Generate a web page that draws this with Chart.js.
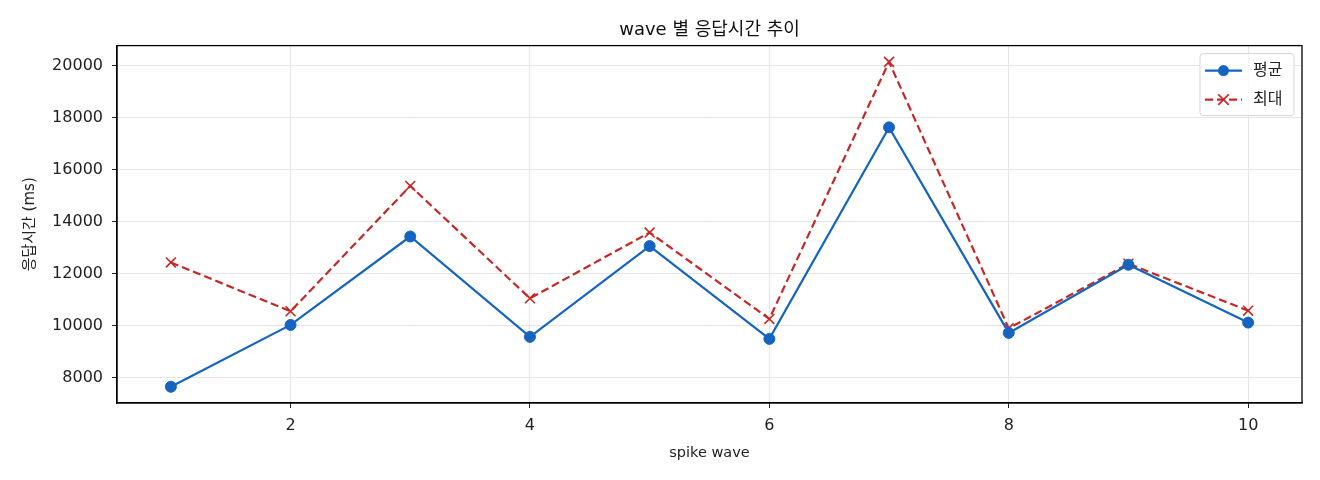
<!DOCTYPE html>
<html>
<head>
<meta charset="utf-8">
<script src="https://cdn.jsdelivr.net/npm/chart.js@4.4.1/dist/chart.umd.min.js"></script>
<style>
  html, body { margin: 0; padding: 0; background: #ffffff; }
  #wrap { width: 1320px; height: 480px; position: relative; }
</style>
</head>
<body>
<div id="wrap"><canvas id="c" width="1320" height="480"></canvas></div>
<script>
// ---- data ----
const waves = [1, 2, 3, 4, 5, 6, 7, 8, 9, 10];
const avgMs = [7655, 10034, 13436, 9574, 13067, 9497, 17635, 9727, 12349, 10123];
const maxMs = [12438, 10557, 15382, 11056, 13589, 10265, 20154, 9904, 12388, 10583];
const xTicks = [2, 4, 6, 8, 10];
const yTicks = [8000, 10000, 12000, 14000, 16000, 18000, 20000];
const seriesLabels = ['평균', '최대'];
const chartTitle = 'wave 별 응답시간 추이';
const xTitle = 'spike wave';
const yTitle = '응답시간 (ms)';

const FONT = "'DejaVu Sans', 'Noto Sans CJK KR', sans-serif";
const BLUE = '#1565c0';
const RED = '#c62828';

const frameAndLegend = {
  id: 'frameAndLegend',
  afterDatasetsDraw(chart) {
    const { ctx, chartArea: a } = chart;
    ctx.save();
    // top & right spines
    ctx.strokeStyle = '#000';
    ctx.lineWidth = 1.3;
    ctx.strokeRect(a.left, a.top, a.right - a.left, a.bottom - a.top);

    // legend box inside upper right
    const bw = 94, bh = 62;
    const bx = a.right - 8 - bw, by = a.top + 8;
    ctx.beginPath();
    ctx.roundRect(bx, by, bw, bh, 3);
    ctx.fillStyle = 'rgba(255,255,255,0.8)';
    ctx.fill();
    ctx.strokeStyle = '#d6d6d6';
    ctx.lineWidth = 1;
    ctx.stroke();

    chart.data.datasets.forEach((ds, i) => {
      const y = by + 17 + i * 29;
      const x0 = bx + 5, x1 = bx + 42, xm = (x0 + x1) / 2;
      ctx.strokeStyle = ds.borderColor;
      ctx.lineWidth = ds.borderWidth;
      ctx.setLineDash(ds.borderDash || []);
      ctx.beginPath();
      ctx.moveTo(x0, y);
      ctx.lineTo(x1, y);
      ctx.stroke();
      ctx.setLineDash([]);
      if (ds.pointStyle === 'circle') {
        ctx.beginPath();
        ctx.arc(xm, y, ds.pointRadius, 0, Math.PI * 2);
        ctx.fillStyle = ds.pointBackgroundColor;
        ctx.fill();
      } else {
        const r = ds.pointRadius * 0.75;
        ctx.lineWidth = ds.pointBorderWidth;
        ctx.beginPath();
        ctx.moveTo(xm - r, y - r); ctx.lineTo(xm + r, y + r);
        ctx.moveTo(xm - r, y + r); ctx.lineTo(xm + r, y - r);
        ctx.stroke();
      }
      ctx.fillStyle = '#222';
      ctx.font = "16px " + FONT;
      ctx.textAlign = 'left';
      ctx.textBaseline = 'middle';
      ctx.fillText(ds.label, bx + 53, y);
    });
    ctx.restore();
  }
};

new Chart(document.getElementById('c'), {
  type: 'line',
  data: {
    datasets: [
      {
        label: seriesLabels[0],
        data: waves.map((w, i) => ({ x: w, y: avgMs[i] })),
        borderColor: BLUE,
        backgroundColor: BLUE,
        borderWidth: 2.2,
        pointStyle: 'circle',
        pointRadius: 5.5,
        pointBackgroundColor: BLUE,
        pointBorderColor: BLUE,
        pointBorderWidth: 1,
        tension: 0
      },
      {
        label: seriesLabels[1],
        data: waves.map((w, i) => ({ x: w, y: maxMs[i] })),
        borderColor: RED,
        backgroundColor: RED,
        borderWidth: 2.2,
        borderDash: [8, 4],
        pointStyle: 'crossRot',
        pointRadius: 7,
        pointBorderColor: RED,
        pointBackgroundColor: RED,
        pointBorderWidth: 1.6,
        tension: 0
      }
    ]
  },
  options: {
    responsive: false,
    animation: false,
    devicePixelRatio: 1,
    layout: { padding: { left: 0, right: 18, top: 0, bottom: 0 } },
    plugins: {
      legend: { display: false },
      tooltip: { enabled: false },
      title: {
        display: true,
        fullSize: false,
        text: chartTitle,
        color: '#111',
        font: { family: FONT, size: 18, weight: 'normal' },
        padding: { top: 20, bottom: 4 }
      }
    },
    scales: {
      x: {
        type: 'linear',
        min: 0.55,
        max: 10.45,
        afterBuildTicks(s) { s.ticks = xTicks.map(v => ({ value: v })); },
        afterFit(s) { s.height = 77; },
        ticks: {
          color: '#222',
          font: { family: FONT, size: 16 },
          padding: 8,
          maxRotation: 0,
          autoSkip: false,
          callback: v => String(v)
        },
        grid: { color: '#e6e6e6', lineWidth: 1, tickLength: 5, tickColor: '#222', drawTicks: true },
        border: { color: '#000', width: 1.3 },
        title: {
          display: true,
          text: xTitle,
          color: '#222',
          font: { family: FONT, size: 14.5 },
          padding: { top: 0, bottom: 18 }
        }
      },
      y: {
        type: 'linear',
        min: 7030,
        max: 20780,
        afterBuildTicks(s) { s.ticks = yTicks.map(v => ({ value: v })); },
        afterFit(s) { s.width = 117; },
        ticks: {
          color: '#222',
          font: { family: FONT, size: 16 },
          padding: 9,
          autoSkip: false,
          callback: v => String(v)
        },
        grid: { color: '#e6e6e6', lineWidth: 1, tickLength: 5, tickColor: '#222', drawTicks: true },
        border: { color: '#000', width: 1.3 },
        title: {
          display: true,
          text: yTitle,
          color: '#222',
          font: { family: FONT, size: 15 },
          padding: { top: 21, bottom: 0 }
        }
      }
    }
  },
  plugins: [frameAndLegend]
});
</script>
</body>
</html>
